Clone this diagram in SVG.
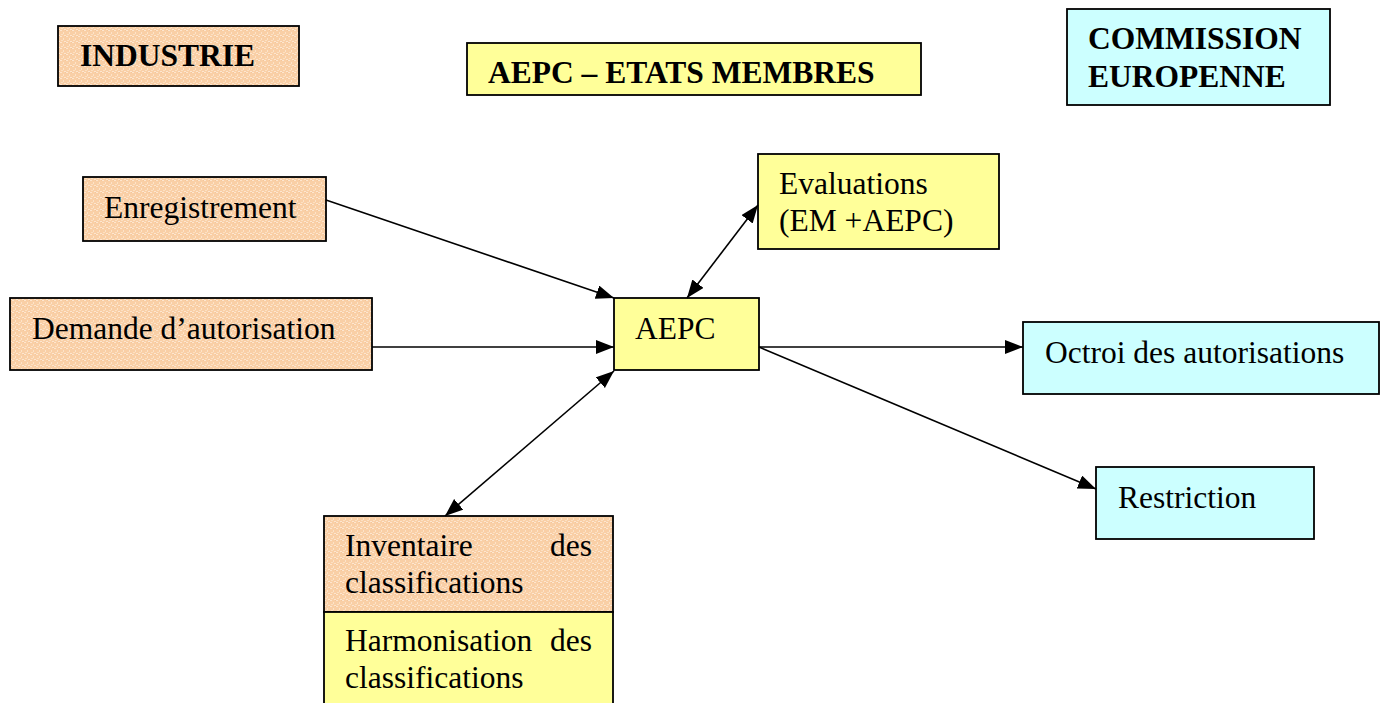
<svg xmlns="http://www.w3.org/2000/svg" width="1380" height="703" viewBox="0 0 1380 703">
<defs>
<pattern id="peach" width="6" height="6" patternUnits="userSpaceOnUse">
<rect width="6" height="6" fill="#F9CFA6"/>
<rect x="0" y="0" width="2" height="1" fill="#FDE6CF"/>
<rect x="3" y="2" width="1" height="2" fill="#FDE3C8"/>
<rect x="1" y="4" width="2" height="1" fill="#FCE0C2"/>
<rect x="4" y="5" width="2" height="1" fill="#FDE6CF"/>
<rect x="5" y="0" width="1" height="1" fill="#F5C597"/>
</pattern>
<marker id="arr" markerWidth="20" markerHeight="16" refX="18" refY="7" orient="auto-start-reverse" markerUnits="userSpaceOnUse">
<path d="M0,0 L18,7 L0,14 z" fill="#000"/>
</marker>
</defs>
<style>
.box{stroke:#000;stroke-width:1.8}
.ind{fill:url(#peach)}
.ye{fill:#FFFF99}
.cy{fill:#CCFFFF}
.t{font-family:"Liberation Serif","Times New Roman",serif;font-size:31.5px;fill:#000}
.b{font-weight:bold}
.c{stroke:#000;stroke-width:1.6;fill:none}
</style>
<g id="hdr-industrie">
<rect class="box ind" x="58" y="26" width="241" height="60"/>
<text class="t b" x="80" y="66">INDUSTRIE</text>
</g>
<g id="hdr-aepc">
<rect class="box ye" x="467" y="43" width="454" height="52"/>
<text class="t b" x="488" y="83">AEPC – ETATS MEMBRES</text>
</g>
<g id="hdr-commission">
<rect class="box cy" x="1067" y="9" width="263" height="96"/>
<text class="t b" x="1088" y="49">COMMISSION</text>
<text class="t b" x="1088" y="87">EUROPENNE</text>
</g>
<g id="enregistrement">
<rect class="box ind" x="83" y="177" width="243" height="64"/>
<text class="t" x="104" y="218">Enregistrement</text>
</g>
<g id="demande">
<rect class="box ind" x="10" y="298" width="362" height="72"/>
<text class="t" x="32" y="339">Demande d’autorisation</text>
</g>
<g id="aepc">
<rect class="box ye" x="614" y="298" width="145" height="72"/>
<text class="t" x="635" y="339">AEPC</text>
</g>
<g id="evaluations">
<rect class="box ye" x="758" y="154" width="241" height="95"/>
<text class="t" x="779" y="194">Evaluations</text>
<text class="t" x="779" y="231">(EM +AEPC)</text>
</g>
<g id="octroi">
<rect class="box cy" x="1023" y="322" width="356" height="72"/>
<text class="t" x="1045" y="363">Octroi des autorisations</text>
</g>
<g id="restriction">
<rect class="box cy" x="1096" y="467" width="218" height="72"/>
<text class="t" x="1118" y="508">Restriction</text>
</g>
<g id="inventaire">
<rect class="box ind" x="324" y="516" width="289" height="96"/>
<text class="t" x="345" y="556">Inventaire</text>
<text class="t" x="592" y="556" text-anchor="end">des</text>
<text class="t" x="345" y="593">classifications</text>
</g>
<g id="harmonisation">
<rect class="box ye" x="324" y="612" width="289" height="95"/>
<text class="t" x="345" y="651">Harmonisation</text>
<text class="t" x="592" y="651" text-anchor="end">des</text>
<text class="t" x="345" y="688">classifications</text>
</g>
<g id="connectors">
<line class="c" x1="326" y1="200" x2="614" y2="298" marker-end="url(#arr)"/>
<line class="c" x1="372" y1="347" x2="614" y2="347" marker-end="url(#arr)"/>
<line class="c" x1="687" y1="298" x2="758" y2="205" marker-start="url(#arr)" marker-end="url(#arr)"/>
<line class="c" x1="614" y1="371" x2="445" y2="516" marker-start="url(#arr)" marker-end="url(#arr)"/>
<line class="c" x1="759" y1="347" x2="1023" y2="347" marker-end="url(#arr)"/>
<line class="c" x1="759" y1="347" x2="1096" y2="489" marker-end="url(#arr)"/>
</g>
</svg>
